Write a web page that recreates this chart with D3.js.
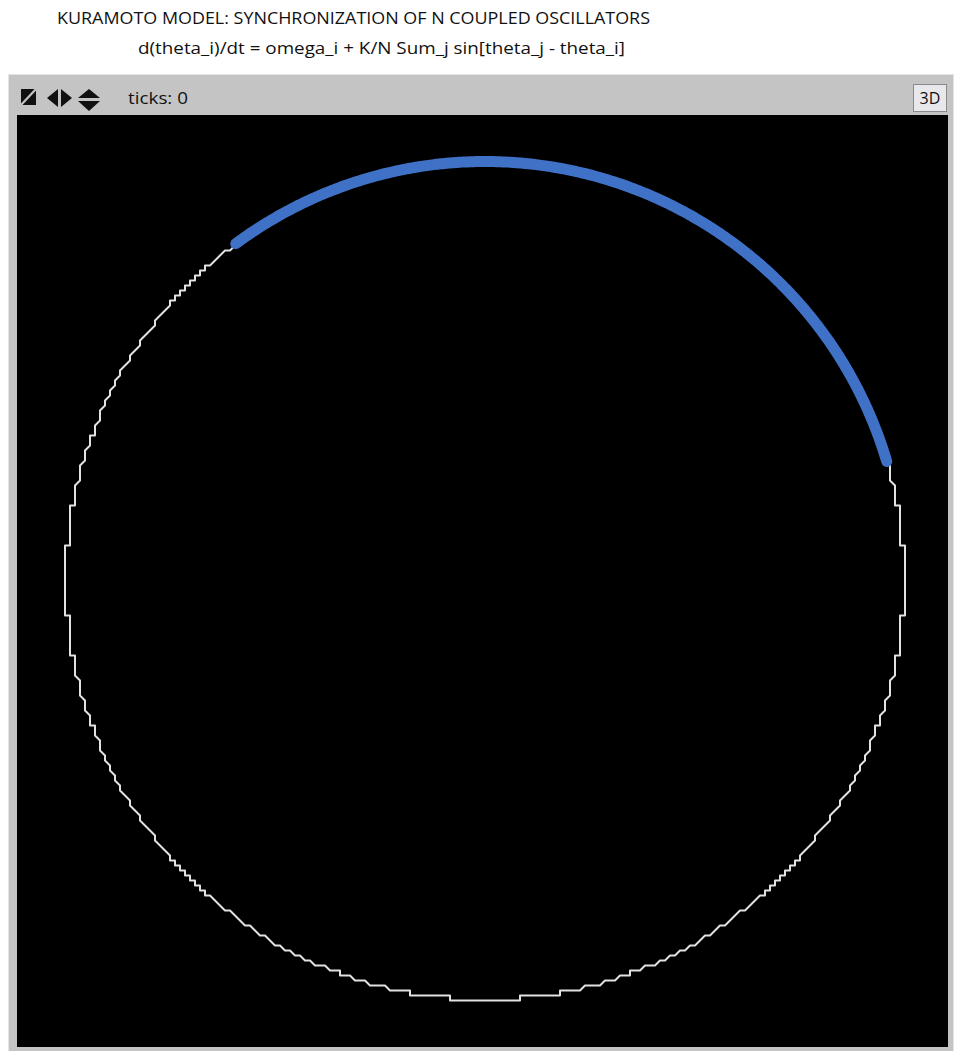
<!DOCTYPE html>
<html>
<head>
<meta charset="utf-8">
<script src="https://cdn.jsdelivr.net/npm/d3@7"></script>
<style>
  body { margin: 0; background: #fff; }
  svg { display: block; }
  text { font-family: "Open Sans", "DejaVu Sans", sans-serif; }
</style>
</head>
<body>
<svg id="chart" width="959" height="1051"></svg>
<script>
// model text
const titleLines = [
  'KURAMOTO MODEL: SYNCHRONIZATION OF N COUPLED OSCILLATORS',
  'd(theta_i)/dt = omega_i + K/N Sum_j sin[theta_j - theta_i]'
];
const tickCount = 0;
// oscillators sit on the unit circle, pen trail sampled every half degree of heading
const oscillatorHeadings = d3.range(0, 360.5, 0.5);
// headings (deg, clockwise from north) of the synchronized cluster
const syncCluster = [-36.5, 73.5];

const svg = d3.select('#chart');

// title block
svg.append('text')
  .attr('x', 57).attr('y', 24)
  .attr('font-size', 16)
  .attr('textLength', 593).attr('lengthAdjust', 'spacingAndGlyphs')
  .attr('fill', '#111')
  .text(titleLines[0]);
svg.append('text')
  .attr('x', 138).attr('y', 54)
  .attr('font-size', 16)
  .attr('textLength', 487).attr('lengthAdjust', 'spacingAndGlyphs')
  .attr('fill', '#111')
  .text(titleLines[1]);

// view frame
let frame = svg.append('g').attr('class', 'frame');
frame.append('rect')
  .attr('x', 8.5).attr('y', 74.5).attr('width', 945).attr('height', 990)
  .attr('fill', '#c4c4c4').attr('stroke', '#e4e4e4').attr('stroke-width', 1);
frame.append('rect')
  .attr('x', 17).attr('y', 115).attr('width', 931).attr('height', 932)
  .attr('fill', '#000');

// toolbar icons
let tools = svg.append('g').attr('class', 'toolbar');
tools.append('rect').attr('x', 21).attr('y', 89).attr('width', 15).attr('height', 16).attr('fill', '#111');
tools.append('line')
  .attr('x1', 21).attr('y1', 105).attr('x2', 36).attr('y2', 89)
  .attr('stroke', '#c4c4c4').attr('stroke-width', 2.2);
tools.append('path').attr('d', 'M47,98 L58,89 L58,107 Z').attr('fill', '#111');
tools.append('path').attr('d', 'M61,89 L72,98 L61,107 Z').attr('fill', '#111');
tools.append('path').attr('d', 'M78,98 L89,89 L100,98 Z').attr('fill', '#111');
tools.append('path').attr('d', 'M78,101 L100,101 L89,111 Z').attr('fill', '#111');

svg.append('text')
  .attr('x', 128).attr('y', 104)
  .attr('font-size', 17)
  .attr('textLength', 60).attr('lengthAdjust', 'spacingAndGlyphs')
  .attr('fill', '#111')
  .text(`ticks: ${tickCount}`);

let btn = svg.append('g').attr('class', 'button-3d');
btn.append('rect')
  .attr('x', 913.5).attr('y', 84.5).attr('width', 33).attr('height', 27)
  .attr('fill', '#e8e8ec').attr('stroke', '#8a8a8a').attr('stroke-width', 1);
btn.append('text')
  .attr('x', 930).attr('y', 104)
  .attr('text-anchor', 'middle')
  .attr('font-size', 16)
  .attr('fill', '#111')
  .text('3D');

// world scales: unit circle -> view pixels
const cx = 485, cy = 580.5, r = 419;
const x = d3.scaleLinear().domain([-1, 1]).range([cx - r, cx + r]);
const y = d3.scaleLinear().domain([-1, 1]).range([cy + r, cy - r]);
const rad = (h) => h * Math.PI / 180;
// pen trails are drawn at patch resolution, snap to a 5px grid
const snap = (v, c) => c + Math.round((v - c) / 5) * 5;

let trail = d3.line()
  .x(h => snap(x(Math.sin(rad(h))), cx))
  .y(h => snap(y(Math.cos(rad(h))), cy));

let middle = svg.append('g').attr('class', 'world');
middle.append('path')
  .datum(oscillatorHeadings)
  .attr('class', 'trail')
  .attr('d', trail)
  .attr('fill', 'none')
  .attr('stroke', '#e2e2e2')
  .attr('stroke-width', 2)
  .attr('stroke-linejoin', 'round');

let cluster = d3.range(syncCluster[0], syncCluster[1] + 0.01, 0.5);
let smooth = d3.line()
  .x(h => x(Math.sin(rad(h))))
  .y(h => y(Math.cos(rad(h))))
  .curve(d3.curveCardinal);
middle.append('path')
  .datum(cluster)
  .attr('class', 'cluster')
  .attr('d', smooth)
  .attr('fill', 'none')
  .attr('stroke', '#3f71c6')
  .attr('stroke-width', 11)
  .attr('stroke-linecap', 'round');
</script>
</body>
</html>
